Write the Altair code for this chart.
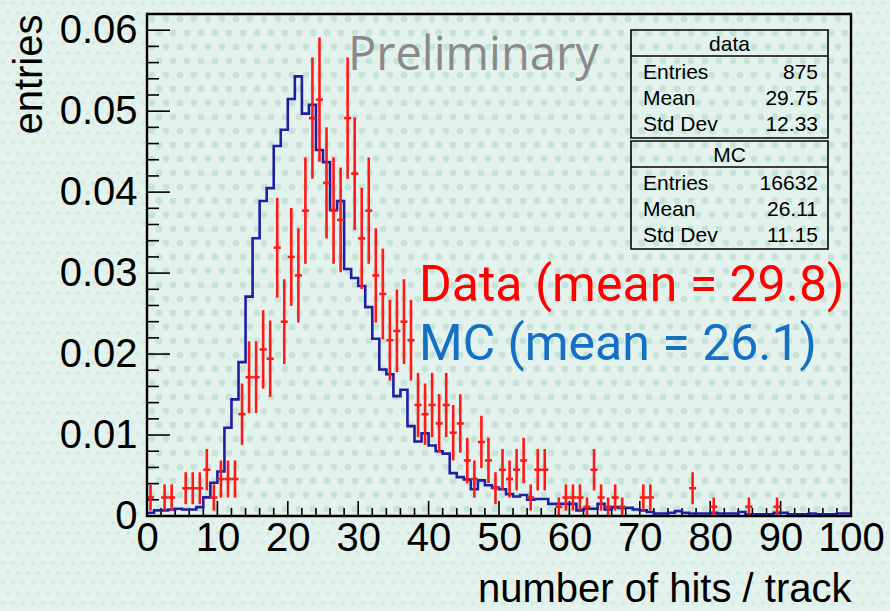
import math

import altair as alt
import pandas as pd

# ---- histogram contents (100 bins of width 1 on 0..100) ----
BIN_EDGES = list(range(0, 101))

# MC: normalised bin contents
mc_values = [
    0.0004, 0.0007, 0.0007, 0.0008, 0.0009, 0.0008, 0.0008, 0.0011, 0.0023, 0.0041,
    0.0055, 0.0109, 0.0144, 0.0190, 0.0271, 0.0343, 0.0389, 0.0405, 0.0457, 0.0477,
    0.0515, 0.0543, 0.0497, 0.0508, 0.0452, 0.0437, 0.0378, 0.0389, 0.0305, 0.0294,
    0.0284, 0.0258, 0.0219, 0.0181, 0.0175, 0.0148, 0.0156, 0.0111, 0.0092, 0.0102,
    0.0087, 0.0080, 0.0077, 0.0053, 0.0048, 0.0045, 0.0033, 0.0044, 0.0038, 0.0035,
    0.0033, 0.0027, 0.0024, 0.0026, 0.0020, 0.0021, 0.0021, 0.0015, 0.0015, 0.0015,
    0.0015, 0.0007, 0.0009, 0.0009, 0.0015, 0.0008, 0.0011, 0.0010, 0.0010, 0.0008,
    0.0007, 0.0005, 0.0003, 0.0003, 0.0004, 0.0006, 0.0004, 0.0003, 0.0003, 0.0003,
    0.0004, 0.0003, 0.0003, 0.0003, 0.0005, 0.0002, 0.0002, 0.0002, 0.0002, 0.0004,
    0.0004, 0.0002, 0.0002, 0.0002, 0.0003, 0.0002, 0.0002, 0.0002, 0.0003, 0.0003,
]

# data: raw counts per bin (875 entries in total)
data_counts = [
    2, 0, 2, 2, 0, 3, 3, 3, 5, 2,
    4, 4, 4, 11, 15, 15, 18, 17, 29, 21,
    28, 26, 33, 43, 45, 36, 33, 32, 43, 37,
    30, 33, 26, 24, 19, 20, 21, 19, 12, 11,
    12, 10, 12, 9, 10, 6, 4, 8, 6, 3,
    5, 4, 5, 6, 2, 5, 5, 0, 1, 2,
    2, 2, 1, 5, 2, 1, 2, 1, 0, 0,
    2, 2, 0, 0, 0, 0, 0, 3, 0, 0,
    1, 0, 0, 0, 0, 1, 0, 0, 0, 1,
    0, 0, 0, 0, 0, 0, 0, 0, 0, 0,
]
DATA_ENTRIES = 875

stats_data = [("Entries", "875"), ("Mean", "29.75"), ("Std Dev", "12.33")]
stats_mc = [("Entries", "16632"), ("Mean", "26.11"), ("Std Dev", "11.15")]

x_major = list(range(0, 101, 10))
x_minor = [v for v in range(0, 101, 2) if v % 10]
y_major = [0.0, 0.01, 0.02, 0.03, 0.04, 0.05, 0.06]
y_minor = [round(i * 0.002, 3) for i in range(31) if i % 5]

W, H = 704, 502
PAD_L, PAD_T, PAD_R, PAD_B = 147, 14, 39, 95
X_MAX, Y_MAX = 100.0, 0.062
BG = "#e4f2ed"

# ---- tables ----
mc_df = pd.DataFrame({
    "x": BIN_EDGES,
    "y": mc_values + [mc_values[-1]],
})

rows = []
for k, c in enumerate(data_counts):
    if c == 0:
        continue
    v = c / DATA_ENTRIES
    e = math.sqrt(c) / DATA_ENTRIES
    rows.append({"xc": BIN_EDGES[k] + 0.5, "xl": BIN_EDGES[k], "xh": BIN_EDGES[k + 1],
                 "y": v, "ylo": v - e, "yhi": v + e})
data_df = pd.DataFrame(rows)


def dot_texture(step, x0, x1, y0, y1):
    """Staggered polka-dot grid for the slide background, in axis units."""
    pts = []
    r = 0
    py = y0
    while py <= y1:
        px = x0 + (step / 2 if r % 2 else 0)
        while px <= x1:
            pts.append({"dx": px * X_MAX / W, "dy": (H - py) * Y_MAX / H})
            px += step
        py += step
        r += 1
    return pd.DataFrame(pts)


outer_dots = dot_texture(10, -PAD_L + 3, W + PAD_R, -PAD_T + 3, H + PAD_B)
inner_dots = dot_texture(14, 5, W - 3, 5, H - 3)

FONT = "Liberation Sans"
DEKO = "Open Sans"
LEGEND_FONT = "Roboto"

xs = alt.Scale(domain=[0, X_MAX], nice=False, zero=False)
ys = alt.Scale(domain=[0, Y_MAX], nice=False, zero=True)

x_axis = alt.Axis(
    values=x_major, domain=False, ticks=False, grid=False, zindex=1,
    labelFont=FONT, labelFontSize=40, labelColor="black", labelPadding=2,
    labelFlush=False, labelOverlap=False,
    title="number of hits / track", titleFont=FONT, titleFontSize=40,
    titleFontWeight="normal", titleColor="black", titleAnchor="end", titlePadding=11,
)
y_axis = alt.Axis(
    values=y_major, domain=False, ticks=False, grid=False, zindex=1,
    labelExpr="datum.value == 0 ? '0' : format(datum.value, '.2f')",
    labelFont=FONT, labelFontSize=40, labelColor="black", labelPadding=10,
    labelFlush=False, labelOverlap=False,
    title="entries", titleFont=FONT, titleFontSize=40,
    titleFontWeight="normal", titleColor="black", titleAnchor="end", titlePadding=10,
)

one = pd.DataFrame({"_": [0]})

# background texture: fine dots on the slide, coarser dots inside the frame
bg_outer = alt.Chart(outer_dots).mark_circle(size=16, color="#d2eae1", opacity=1).encode(
    x=alt.X("dx:Q", scale=xs, axis=x_axis), y=alt.Y("dy:Q", scale=ys, axis=y_axis)
)
bg_frame = alt.Chart(one).mark_rect(fill=BG).encode(
    x=alt.value(0), x2=alt.value(W), y=alt.value(0), y2=alt.value(H)
)
bg_inner = alt.Chart(inner_dots).mark_circle(size=46, color="#c6e4d8", opacity=1).encode(
    x=alt.X("dx:Q", scale=xs), y=alt.Y("dy:Q", scale=ys)
)
# plot frame, drawn over the texture
frame = alt.Chart(one).mark_rect(fill=None, stroke="black", strokeWidth=2.4).encode(
    x=alt.value(0), x2=alt.value(W), y=alt.value(0), y2=alt.value(H)
)

mc_line = alt.Chart(mc_df).mark_line(
    interpolate="step-after", color="#1f1fa3", strokeWidth=2.6, clip=True
).encode(
    x=alt.X("x:Q", scale=xs),
    y=alt.Y("y:Q", scale=ys),
)

err_v = alt.Chart(data_df).mark_rule(color="#ff1a1a", strokeWidth=2.6).encode(
    x=alt.X("xc:Q", scale=xs), y=alt.Y("ylo:Q", scale=ys), y2="yhi:Q"
)
err_h = alt.Chart(data_df).mark_rule(color="#ff1a1a", strokeWidth=2.6).encode(
    x=alt.X("xl:Q", scale=xs), x2="xh:Q", y=alt.Y("y:Q", scale=ys)
)


def ticks_x(vals, length):
    return alt.Chart(pd.DataFrame({"t": vals})).mark_rule(color="black", strokeWidth=1.6).encode(
        x=alt.X("t:Q", scale=xs), y=alt.value(H), y2=alt.value(H - length)
    )


def ticks_y(vals, length):
    return alt.Chart(pd.DataFrame({"t": vals})).mark_rule(color="black", strokeWidth=1.6).encode(
        y=alt.Y("t:Q", scale=ys), x=alt.value(0), x2=alt.value(length)
    )


def text_at(txt, x, y, size, color="black", align="left", font=FONT, baseline="alphabetic"):
    return alt.Chart(one).mark_text(
        text=txt, font=font, fontSize=size, color=color, align=align, baseline=baseline
    ).encode(x=alt.value(x), y=alt.value(y))


def rect_at(x0, x1, y0, y1):
    return alt.Chart(one).mark_rect(fill=None, stroke="black", strokeWidth=1.6).encode(
        x=alt.value(x0), x2=alt.value(x1), y=alt.value(y0), y2=alt.value(y1)
    )


def hline_at(x0, x1, y):
    return alt.Chart(one).mark_rule(color="black", strokeWidth=1.4).encode(
        x=alt.value(x0), x2=alt.value(x1), y=alt.value(y)
    )


def stat_box(name, stats, top):
    bx0, bx1 = 484, 681
    layers = [rect_at(bx0, bx1, top, top + 108), hline_at(bx0, bx1, top + 26),
              text_at(name, (bx0 + bx1) / 2, top + 21, 21, align="center")]
    for i, (lab, val) in enumerate(stats):
        yb = top + 49 + 26 * i
        layers.append(text_at(lab, bx0 + 12, yb, 21))
        layers.append(text_at(val, bx1 - 10, yb, 21, align="right"))
    return layers


layers = [
    bg_outer, bg_frame, bg_inner,
    ticks_x(x_major, 15), ticks_x(x_minor, 8),
    ticks_y(y_major, 23), ticks_y(y_minor, 12),
    mc_line, err_v, err_h, frame,
    text_at("Preliminary", 201, 56, 47, color="#8a8a8a", font=DEKO),
    text_at("Data (mean = 29.8)", 272, 287, 50, color="#ff0000", font=LEGEND_FONT),
    text_at("MC (mean = 26.1)", 272, 346, 50, color="#1570c4", font=LEGEND_FONT),
]
layers += stat_box("data", stats_data, 16)
layers += stat_box("MC", stats_mc, 127)

chart = alt.layer(*layers).properties(
    width=W, height=H,
    autosize=alt.AutoSizeParams(type="none"),
    padding={"left": PAD_L, "top": PAD_T, "right": PAD_R, "bottom": PAD_B},
).configure(
    background=BG,
).configure_view(
    strokeWidth=0, fill=None,
)

chart.save("out.html", embed_options={"renderer": "svg", "actions": False})
